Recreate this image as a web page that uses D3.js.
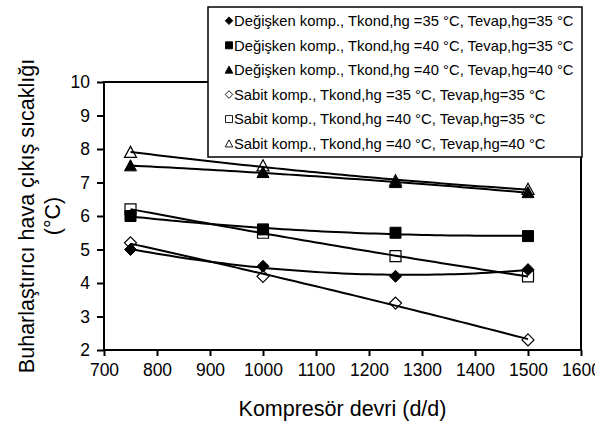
<!DOCTYPE html>
<html>
<head>
    <meta charset="utf-8">
    <script src="https://d3js.org/d3.v7.min.js"></script>
    <style>
        body { margin: 0; background: #fff; }
        svg { display: block; font-family: Arial, "Liberation Sans", sans-serif; }
    </style>
</head>
<body>
    <svg width="595" height="423"></svg>
    <script>
        // compressor speed (d/d)
        const speeds = [750, 1000, 1250, 1500];

        const seriesNames = [
            "Değişken komp., Tkond,hg =35 °C, Tevap,hg=35 °C",
            "Değişken komp., Tkond,hg =40 °C, Tevap,hg=35 °C",
            "Değişken komp., Tkond,hg =40 °C, Tevap,hg=40 °C",
            "Sabit komp., Tkond,hg =35 °C, Tevap,hg=35 °C",
            "Sabit komp., Tkond,hg =40 °C, Tevap,hg=35 °C",
            "Sabit komp., Tkond,hg =40 °C, Tevap,hg=40 °C"
        ];
        const shapes = ["diamond", "square", "triangle", "diamond", "square", "triangle"];
        const filled = [true, true, true, false, false, false];

        // evaporator outlet air temperature (°C)
        const degisken3535 = [5.0, 4.5, 4.2, 4.4];
        const degisken4035 = [6.0, 5.6, 5.5, 5.4];
        const degisken4040 = [7.5, 7.3, 7.0, 6.7];
        const sabit3535 = [5.2, 4.2, 3.4, 2.3];
        const sabit4035 = [6.2, 5.5, 4.8, 4.2];
        const sabit4040 = [7.9, 7.5, 7.05, 6.8];
        const allValues = [degisken3535, degisken4035, degisken4040, sabit3535, sabit4035, sabit4040];

        const xTicks = [700, 800, 900, 1000, 1100, 1200, 1300, 1400, 1500, 1600];
        const yTicks = [2, 3, 4, 5, 6, 7, 8, 9, 10];

        const svg = d3.select("svg");
        const plotLeft = 104, plotRight = 581, plotTop = 82, plotBottom = 350;

        const x = d3.scaleLinear().domain([700, 1600]).range([plotLeft, plotRight]);
        const y = d3.scaleLinear().domain([2, 10]).range([plotBottom, plotTop]);

        // marker outline for a given shape, half size r
        function markerPath(shape, r) {
            if (shape === "diamond") return `M0,${-r}L${r},0L0,${r}L${-r},0Z`;
            if (shape === "square") return `M${-r},${-r}H${r}V${r}H${-r}Z`;
            return `M0,${-r}L${r},${r * 0.85}H${-r}Z`;
        }

        // 2nd order polynomial trendline (least squares), like excel
        function polyFit(xs, ys) {
            const n = xs.length;
            const u = xs.map(v => (v - 1125) / 375);
            let s = [0, 0, 0, 0, 0], t = [0, 0, 0];
            for (let i = 0; i < n; i++) {
                for (let k = 0; k < 5; k++) s[k] += Math.pow(u[i], k);
                for (let k = 0; k < 3; k++) t[k] += ys[i] * Math.pow(u[i], k);
            }
            const A = [[s[0], s[1], s[2]], [s[1], s[2], s[3]], [s[2], s[3], s[4]]];
            const det = m => m[0][0] * (m[1][1] * m[2][2] - m[1][2] * m[2][1])
                - m[0][1] * (m[1][0] * m[2][2] - m[1][2] * m[2][0])
                + m[0][2] * (m[1][0] * m[2][1] - m[1][1] * m[2][0]);
            const D = det(A);
            const c = [0, 1, 2].map(j => det(A.map((row, i) => row.map((v, k) => k === j ? t[i] : v))) / D);
            return v => {
                const q = (v - 1125) / 375;
                return c[0] + c[1] * q + c[2] * q * q;
            };
        }

        // axes
        const xAxis = svg.append("g")
            .attr("transform", `translate(0,${plotBottom})`)
            .call(d3.axisBottom(x).tickValues(xTicks).tickFormat(d3.format("d")).tickSize(6).tickPadding(8));
        const yAxis = svg.append("g")
            .attr("transform", `translate(${plotLeft},0)`)
            .call(d3.axisLeft(y).tickValues(yTicks).tickFormat(d3.format("d")).tickSize(7).tickPadding(7));
        [xAxis, yAxis].forEach(g => {
            g.select(".domain").remove();
            g.selectAll("line").attr("stroke", "#000").attr("stroke-width", 2);
            g.selectAll("text").attr("font-size", 17.5).attr("fill", "#000")
                .attr("font-family", "Arial, 'Liberation Sans', sans-serif");
        });

        // plot frame
        svg.append("rect")
            .attr("x", plotLeft).attr("y", plotTop)
            .attr("width", plotRight - plotLeft).attr("height", plotBottom - plotTop)
            .attr("fill", "none").attr("stroke", "#000").attr("stroke-width", 2);

        // trendlines
        const line = d3.line().x(d => x(d[0])).y(d => y(d[1]));
        const sampleX = d3.range(750, 1500.1, 12.5);
        allValues.forEach((vals, i) => {
            const f = polyFit(speeds, vals);
            svg.append("path")
                .attr("d", line(sampleX.map(v => [v, f(v)])))
                .attr("fill", "none").attr("stroke", "#000").attr("stroke-width", 2);
        });

        // markers (open ones first so filled sit on top)
        [3, 4, 5, 0, 1, 2].forEach(i => {
            svg.append("g").selectAll("path")
                .data(allValues[i].map((v, j) => [speeds[j], v]))
                .enter().append("path")
                .attr("transform", d => `translate(${x(d[0])},${y(d[1])})`)
                .attr("d", markerPath(shapes[i], shapes[i] === "square" ? 5.5 : 6))
                .attr("fill", filled[i] ? "#000" : "none")
                .attr("stroke", "#000").attr("stroke-width", filled[i] ? 1 : 1.2);
        });

        // legend
        const legend = svg.append("g");
        legend.append("rect")
            .attr("x", 208).attr("y", 7).attr("width", 374).attr("height", 150)
            .attr("fill", "#fff").attr("stroke", "#000").attr("stroke-width", 1.5);
        seriesNames.forEach((name, i) => {
            const ry = 20.7 + i * 24.6;
            legend.append("path")
                .attr("transform", `translate(229,${ry})`)
                .attr("d", markerPath(shapes[i], shapes[i] === "square" ? 3.5 : 3.8))
                .attr("fill", filled[i] ? "#000" : "#fff")
                .attr("stroke", "#000").attr("stroke-width", 0.9);
            legend.append("text")
                .attr("x", 234).attr("y", ry).attr("dy", "0.36em")
                .attr("font-size", 14.8).text(name);
        });

        // axis titles
        svg.append("text")
            .attr("x", (plotLeft + plotRight) / 2).attr("y", 416)
            .attr("text-anchor", "middle").attr("font-size", 21.5)
            .text("Kompresör devri (d/d)");
        const yt = svg.append("text")
            .attr("transform", `translate(0,${(plotTop + plotBottom) / 2}) rotate(-90)`)
            .attr("text-anchor", "middle").attr("font-size", 21.5);
        yt.append("tspan").attr("x", 0).attr("y", 34).text("Buharlaştırıcı hava çıkış sıcaklığı");
        yt.append("tspan").attr("x", 0).attr("y", 60).text("(°C)");
    </script>
</body>
</html>
